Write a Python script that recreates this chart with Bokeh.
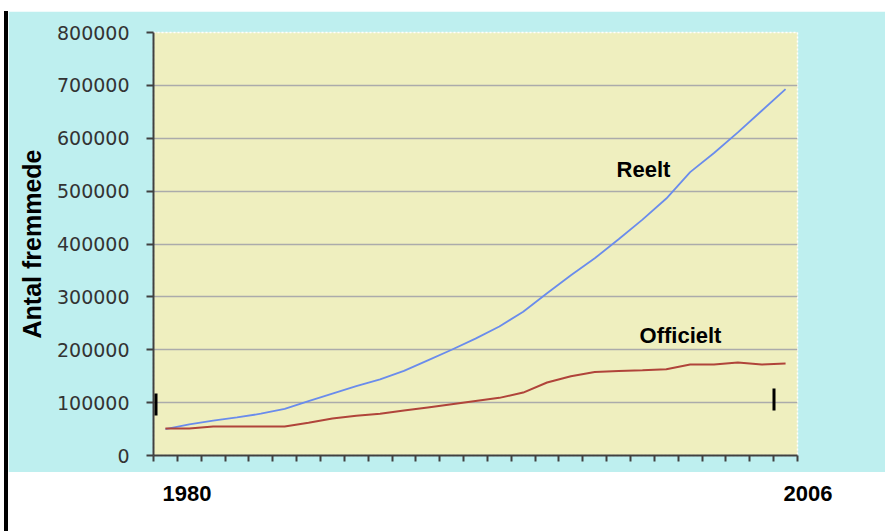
from bokeh.plotting import figure
from bokeh.models import (Range1d, FixedTicker, NumeralTickFormatter, BoxAnnotation, Label,
                          Spacer, LinearAxis)
from bokeh.layouts import row, column
from bokeh.embed import file_html
from bokeh.resources import INLINE

years = list(range(1980, 2007))
reelt = [50000, 59000, 66000, 72000, 79000, 88000, 103000, 117000, 131000, 144000,
         160000, 180000, 200000, 221000, 244000, 272000, 307000, 341000, 373000, 409000,
         446000, 486000, 536000, 572000, 611000, 652000, 693000]
officielt = [51000, 51000, 55000, 55000, 55000, 55000, 62000, 70000, 75000, 79000,
             85000, 91000, 97000, 103000, 109000, 119000, 138000, 150000, 158000, 160000,
             161000, 163000, 172000, 172000, 176000, 172000, 174000]
y_ticks = [0, 100000, 200000, 300000, 400000, 500000, 600000, 700000, 800000]
y_title = "Antal fremmede"
series_labels = ["Reelt", "Officielt"]
year_labels = ["1980", "2006"]

CYAN = "#BEEFEF"
KHAKI = "#EFEFBF"

xr = Range1d(years[0] - 0.5, years[-1] + 0.5)

p = figure(width=877, height=461, output_backend="svg", toolbar_location=None, title=None,
           x_range=xr, y_range=Range1d(0, 800000),
           min_border_left=145, min_border_right=88, min_border_top=21, min_border_bottom=17,
           border_fill_color=CYAN, background_fill_color=KHAKI)

p.outline_line_color = "white"
p.outline_line_dash = "2 2"
p.outline_line_width = 1.5

p.xgrid.visible = False
p.ygrid.grid_line_color = "#ABABAB"
p.ygrid.grid_line_width = 1.5
p.ygrid.ticker = FixedTicker(ticks=y_ticks)

ya = p.yaxis[0]
ya.ticker = FixedTicker(ticks=y_ticks)
ya.formatter = NumeralTickFormatter(format="0")
ya.major_label_text_font = "DejaVu Sans"
ya.major_label_text_font_size = "19px"
ya.major_label_text_color = "#333333"
ya.major_label_standoff = 17
ya.major_tick_out = 7
ya.major_tick_in = 0
ya.minor_tick_out = 0
ya.minor_tick_in = 0
ya.major_tick_line_color = "#404040"
ya.major_tick_line_width = 2
ya.axis_line_color = "#404040"
ya.axis_line_width = 2
ya.axis_label = y_title
ya.axis_label_text_font = "Liberation Sans"
ya.axis_label_text_font_style = "bold"
ya.axis_label_text_font_size = "25px"
ya.axis_label_text_color = "black"
ya.axis_label_standoff = 8

xa = p.xaxis[0]
xa.ticker = FixedTicker(ticks=[], minor_ticks=[y - 0.5 for y in years] + [years[-1] + 0.5])
xa.major_tick_out = 0
xa.major_tick_in = 0
xa.minor_tick_out = 6
xa.minor_tick_in = 0
xa.minor_tick_line_color = "#404040"
xa.minor_tick_line_width = 2
xa.axis_line_color = "#404040"
xa.axis_line_width = 2

p.line(years, reelt, line_color="#6A8CEC", line_width=1.8)
p.line(years, officielt, line_color="#B0443A", line_width=2)

lab_kw = dict(text_font="Liberation Sans", text_font_style="bold", text_font_size="22px",
              text_color="black", text_align="center", text_baseline="middle",
              x_units="canvas", y_units="canvas")
p.add_layout(Label(x=635, y=158, text=series_labels[0], **lab_kw))
p.add_layout(Label(x=672, y=324, text=series_labels[1], **lab_kw))

# short vertical marks
for (l, r, t, b) in [(146, 149, 382, 404), (764, 767, 377, 399)]:
    p.add_layout(BoxAnnotation(left=l, right=r, top=t, bottom=b,
                               left_units="canvas", right_units="canvas",
                               top_units="canvas", bottom_units="canvas",
                               fill_color="black", fill_alpha=1, line_alpha=0))

# white strip below the chart with the first and last year (as axis labels)
q = figure(width=877, height=59, output_backend="svg", toolbar_location=None, title=None,
           x_range=xr, y_range=Range1d(0, 1),
           min_border_left=145, min_border_right=88, min_border_top=0, min_border_bottom=0,
           border_fill_color="white", background_fill_color="white")
q.outline_line_color = None
q.grid.visible = False
q.xaxis.visible = False
q.add_layout(LinearAxis(), "right")

tick_y = 0.64
for ax, lab, standoff in [(q.yaxis[0], year_labels[0], -58), (q.yaxis[1], year_labels[1], -14)]:
    ax.ticker = FixedTicker(ticks=[tick_y])
    ax.major_label_overrides = {tick_y: lab}
    ax.major_label_text_font = "Liberation Sans"
    ax.major_label_text_font_style = "bold"
    ax.major_label_text_font_size = "22px"
    ax.major_label_text_color = "black"
    ax.major_label_standoff = standoff
    ax.axis_line_color = None
    ax.major_tick_line_color = None
    ax.minor_tick_line_color = None
    ax.major_tick_out = 0
    ax.major_tick_in = 0
    ax.minor_tick_out = 0
    ax.minor_tick_in = 0

left_white = Spacer(width=4, height=531)
rule = column(Spacer(width=4, height=11),
              Spacer(width=4, height=520, styles={"background-color": "black"}))
main = column(Spacer(width=877, height=11), p, q)
layout = row(left_white, rule, main)

open("out.html", "w").write(file_html(layout, INLINE))
